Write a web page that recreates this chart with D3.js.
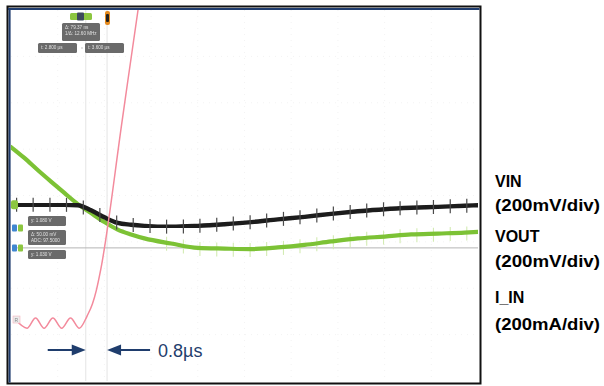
<!DOCTYPE html>
<html>
<head>
<meta charset="utf-8">
<script src="https://cdn.jsdelivr.net/npm/d3@7"></script>
<style>
  html, body { margin: 0; padding: 0; background: #fff; }
  svg { display: block; }
</style>
</head>
<body>
<svg id="scope" width="604" height="386"></svg>
<script>
// Capture: sample times (µs) shared by VIN and VOUT
const timeUs = [0, 0.5, 1, 1.5, 2, 2.5, 3, 3.5, 4, 4.5, 5, 6, 7, 8, 9, 10, 11, 12, 13, 14, 15, 16, 17, 17.5];
// VIN deviation from its marker level (mV)
const vinMv  = [0, 0, 0, 0, 0, -2, -24, -54, -78, -86, -91, -95, -91, -84, -75, -63, -52, -39, -28, -19, -13, -9, -4, -2];
// VOUT relative to its marker level (mV)
const voutMv = [435, 388, 336, 286, 237, 189, 150, 112, 79, 58, 41, 19, 0, -3, -5, 2, 13, 28, 41, 49, 58, 62, 66, 69];
// Input current, own time base (µs) and value (mA) relative to its marker level
const iinTimeUs = [0.15, 0.6, 0.92, 1.24, 1.57, 1.9, 2.23, 2.56, 2.85, 3.05, 3.2, 3.36, 4.17, 4.76, 4.85];
const iinMa     = [17, -22, 22, -22, 22, -22, 22, -22, 30, 82, 142, 229, 876, 1350, 1418];
// Switching noise spikes seen on the rails (µs)
const spikeTimesUs = [0.21, 0.83, 1.46, 2.08, 2.71, 3.33, 3.96, 4.58, 5.21, 5.83, 6.46, 7.08, 7.71, 8.33,
                      8.96, 9.58, 10.21, 10.83, 11.46, 12.08, 12.71, 13.33, 13.96, 14.58, 15.21, 15.83, 16.46, 17.08];
// Time cursors (µs) and the measured delay between them
const cursorTimesUs = [2.8, 3.6];
const delayLabel = "0.8µs";
// Channel names and vertical sensitivities
const channelNames  = ["VIN", "VOUT", "I_IN"];
const channelScales = ["(200mV/div)", "(200mV/div)", "(200mA/div)"];
const perDiv = 200;

const svg = d3.select("#scope");
const plot = { left: 11, right: 478, top: 10, bottom: 381 };

const x = d3.scaleLinear().domain([0, 17.5]).range([plot.left, plot.right]);
const yDiv = d3.scaleLinear().domain([-4, 4]).range([plot.bottom, plot.top]);
// per-channel vertical offsets (divisions)
const offsetDiv = { vin: -0.2, vout: -1.13, iin: -2.75 };
const yCh = (ch, v) => yDiv(offsetDiv[ch] + v / perDiv);

const defs = svg.append("defs");
defs.append("clipPath").attr("id", "plotClip")
  .append("rect").attr("x", plot.left).attr("y", plot.top)
  .attr("width", plot.right - plot.left).attr("height", plot.bottom - plot.top);
defs.append("filter").attr("id", "soft").attr("x", "-5%").attr("y", "-5%").attr("width", "110%").attr("height", "110%")
  .append("feGaussianBlur").attr("stdDeviation", 0.55);
defs.append("filter").attr("id", "soft2")
  .append("feGaussianBlur").attr("stdDeviation", 0.35);

// plot background
svg.append("rect").attr("x", plot.left).attr("y", plot.top)
  .attr("width", plot.right - plot.left).attr("height", plot.bottom - plot.top).attr("fill", "#fff");

// faint graticule
const grat = svg.append("g").attr("clip-path", "url(#plotClip)");
grat.selectAll("line.gv").data(d3.range(1, 10)).join("line")
  .attr("x1", d => plot.left + d * (plot.right - plot.left) / 10)
  .attr("x2", d => plot.left + d * (plot.right - plot.left) / 10)
  .attr("y1", plot.top).attr("y2", plot.bottom)
  .attr("stroke", "#f3f3f3").attr("stroke-width", 1).attr("stroke-dasharray", "1,5");
grat.selectAll("line.gh").data(d3.range(-3, 4)).join("line")
  .attr("x1", plot.left).attr("x2", plot.right)
  .attr("y1", d => yDiv(d)).attr("y2", d => yDiv(d))
  .attr("stroke", "#f3f3f3").attr("stroke-width", 1).attr("stroke-dasharray", "1,5");

const g = svg.append("g").attr("clip-path", "url(#plotClip)");

// cursor lines
g.selectAll("line.cursor").data(cursorTimesUs).join("line")
  .attr("x1", d => x(d)).attr("x2", d => x(d))
  .attr("y1", plot.top).attr("y2", plot.bottom)
  .attr("stroke", "#e9e9e9").attr("stroke-width", 1.2);

// VOUT reference level
g.append("line")
  .attr("x1", plot.left + 1).attr("x2", plot.right)
  .attr("y1", yCh("vout", 0)).attr("y2", yCh("vout", 0))
  .attr("stroke", "#b4b4b4").attr("stroke-width", 1);

const railLine = ch => d3.line().x((d, i) => x(timeUs[i])).y(d => yCh(ch, d)).curve(d3.curveMonotoneX);
const interp = (arr, t) => {
  const i = d3.bisectLeft(timeUs, t);
  const i0 = Math.max(0, i - 1), i1 = Math.min(timeUs.length - 1, i);
  const f = i1 === i0 ? 0 : (t - timeUs[i0]) / (timeUs[i1] - timeUs[i0]);
  return arr[i0] + f * (arr[i1] - arr[i0]);
};

// VOUT spikes (pale)
g.selectAll("line.vspk").data(spikeTimesUs.filter(t => t > 5.5)).join("line")
  .attr("x1", d => x(d)).attr("x2", d => x(d))
  .attr("y1", d => yCh("vout", interp(voutMv, d)) - 6).attr("y2", d => yCh("vout", interp(voutMv, d)) + 8)
  .attr("stroke", "#d3ebb3").attr("stroke-width", 1.1);

// VOUT trace
g.append("path").datum(voutMv).attr("d", railLine("vout"))
  .attr("fill", "none").attr("stroke", "#7cc234").attr("stroke-width", 4.2)
  .attr("stroke-linecap", "round").attr("filter", "url(#soft)");

// VIN trace
g.append("path").datum(vinMv).attr("d", railLine("vin"))
  .attr("fill", "none").attr("stroke", "#1b1b1b").attr("stroke-width", 4.4)
  .attr("stroke-linecap", "round").attr("filter", "url(#soft)");

// VIN spikes, on top of the trace
g.selectAll("line.ispk").data(spikeTimesUs).join("line")
  .attr("x1", d => x(d)).attr("x2", d => x(d))
  .attr("y1", d => yCh("vin", interp(vinMv, d)) - 7).attr("y2", d => yCh("vin", interp(vinMv, d)) + 7)
  .attr("stroke", "#4a4a4a").attr("stroke-width", 1.2);

// I_IN trace
g.append("path").datum(iinMa)
  .attr("d", d3.line().x((d, i) => x(iinTimeUs[i])).y(d => yCh("iin", d)).curve(d3.curveMonotoneX))
  .attr("fill", "none").attr("stroke", "#f38a9c").attr("stroke-width", 1.5).attr("filter", "url(#soft2)");

// --- scope annotations (markers and readout boxes) ---
const ann = svg.append("g").attr("filter", "url(#soft2)");
const box = (bx, by, w, h, lines) => {
  ann.append("rect").attr("x", bx).attr("y", by).attr("width", w).attr("height", h)
    .attr("rx", 1.5).attr("fill", "#6a6a6a");
  lines.forEach((t, i) => ann.append("text").attr("x", bx + 3).attr("y", by + 6 + i * 6)
    .attr("font-family", "Liberation Sans, Arial, sans-serif").attr("font-size", 4.6)
    .attr("fill", "#e0e0e0").text(t));
};
// channel markers on the left edge
const yVin = yCh("vin", 0), yVout = yCh("vout", 0), yMid = yDiv(-0.7);
ann.append("rect").attr("x", 11).attr("y", yVin - 4.5).attr("width", 7).attr("height", 9).attr("rx", 2).attr("fill", "#8cc63f");
[yMid, yVout].forEach(yy => {
  ann.append("rect").attr("x", 12).attr("y", yy - 3.5).attr("width", 5).attr("height", 7).attr("rx", 1).attr("fill", "#3f86cf");
  ann.append("rect").attr("x", 18).attr("y", yy - 3.5).attr("width", 5).attr("height", 7).attr("rx", 1).attr("fill", "#8cc63f");
});
box(28, 216, 38, 10, ["y: 1.080 V"]);
box(28, 230, 38, 15, ["Δ: 50.00 mV", "ADC: 97.5000"]);
box(28, 250, 38, 9, ["y: 1.030 V"]);
// I_IN marker
ann.append("rect").attr("x", 13).attr("y", yCh("iin", 0) - 7).attr("width", 7).attr("height", 7)
  .attr("fill", "#ececec").attr("stroke", "#f4b6c0").attr("stroke-width", 0.6);
ann.append("text").attr("x", 14.5).attr("y", yCh("iin", 0) - 1.5).attr("font-size", 5)
  .attr("font-family", "Liberation Sans, Arial, sans-serif").attr("fill", "#888").text("R");
// trigger / time markers along the top
ann.append("rect").attr("x", 70).attr("y", 13).attr("width", 22).attr("height", 7).attr("rx", 1.5).attr("fill", "#8cc63f");
ann.append("rect").attr("x", 77).attr("y", 12.5).attr("width", 7).attr("height", 8).attr("rx", 1).attr("fill", "#3d4a5c");
ann.append("rect").attr("x", 105).attr("y", 11).attr("width", 5).attr("height", 14).attr("rx", 2).attr("fill", "#e58a1f");
ann.append("rect").attr("x", 106).attr("y", 14).attr("width", 3).attr("height", 8).attr("rx", 1).attr("fill", "#222");
box(62, 23, 38, 18, ["Δ: 79.37 ns", "1/Δ: 12.60 MHz"]);
box(38, 43, 39, 10, ["t: 2.800 µs"]);
box(85, 43, 39, 10, ["t: 3.600 µs"]);
ann.append("circle").attr("cx", 82).attr("cy", 48).attr("r", 0.8).attr("fill", "#bbb");

// frame
svg.append("rect").attr("x", 7.5).attr("y", 6.5).attr("width", 473).attr("height", 377)
  .attr("fill", "none").attr("stroke", "#111").attr("stroke-width", 2);
svg.append("line").attr("x1", 8).attr("x2", 479.5).attr("y1", 9).attr("y2", 9)
  .attr("stroke", "#1f3c6e").attr("stroke-width", 2.2);
svg.append("line").attr("x1", 9.6).attr("x2", 9.6).attr("y1", 8).attr("y2", 382.5)
  .attr("stroke", "#1f3c6e").attr("stroke-width", 2);

// delay arrows between the cursors
const navy = "#1f3d6d";
const ay = 350;
const xa = x(cursorTimesUs[0]), xb = x(cursorTimesUs[1]);
const arr = svg.append("g");
arr.append("line").attr("x1", xa - 38).attr("x2", xa - 12).attr("y1", ay).attr("y2", ay)
  .attr("stroke", navy).attr("stroke-width", 2);
arr.append("path").attr("d", `M${xa},${ay} L${xa - 14},${ay - 5.5} L${xa - 14},${ay + 5.5} Z`).attr("fill", navy);
arr.append("line").attr("x1", xb + 12).attr("x2", xb + 43).attr("y1", ay).attr("y2", ay)
  .attr("stroke", navy).attr("stroke-width", 2);
arr.append("path").attr("d", `M${xb},${ay} L${xb + 14},${ay - 5.5} L${xb + 14},${ay + 5.5} Z`).attr("fill", navy);
arr.append("text").attr("x", xb + 51).attr("y", ay + 6.5)
  .attr("font-family", "Liberation Sans, Arial, sans-serif").attr("font-size", 18)
  .attr("fill", navy).text(delayLabel);

// channel labels on the right
const labelY = [[187, 211], [242, 267], [303, 330]];
const lg = svg.append("g").attr("font-family", "Liberation Sans, Arial, sans-serif")
  .attr("font-weight", "bold").attr("font-size", 16).attr("fill", "#000");
channelNames.forEach((name, i) => {
  lg.append("text").attr("x", 495).attr("y", labelY[i][0]).text(name);
  lg.append("text").attr("x", 495).attr("y", labelY[i][1])
    .attr("textLength", 105).attr("lengthAdjust", "spacingAndGlyphs").text(channelScales[i]);
});
</script>
</body>
</html>
